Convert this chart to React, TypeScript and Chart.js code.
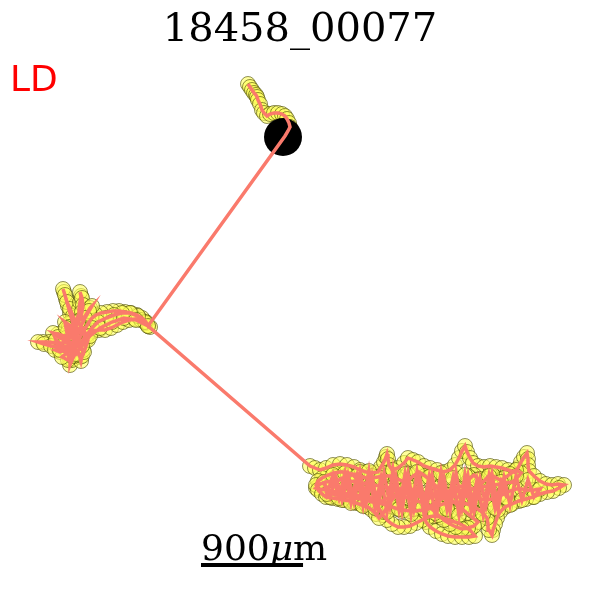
import React, { useEffect, useRef } from 'react';
import { Chart, registerables } from 'chart.js';

Chart.register(...registerables);

// track positions (arena units, 1 unit ~ 8.8 um), in the order they were visited
const startX = [248, 250, 252, 254, 256, 257, 258, 260, 262, 264, 267, 270, 274, 278, 282, 285, 287, 289, 290, 288, 285];
const startY = [84, 87, 90, 93, 95, 97, 100, 104, 110, 113, 116, 114, 113, 113, 114, 116, 119, 123, 127, 131, 136];

const leftX = [
  148, 146, 142, 137, 131, 125, 119, 113, 107, 101, 96, 92, 89, 86, 83, 80, 78,
  76, 74, 72, 70, 68, 66, 64, 63, 65, 67, 70, 73, 76,
  78, 79, 80, 81, 80, 82, 83, 82, 80,
  84, 87, 90, 92, 89, 85, 81,
  77, 72, 68, 65, 69, 73, 77,
  70, 64, 58, 53, 58, 64, 70,
  63, 56, 49, 43, 38, 44, 51, 58,
  65, 68, 70, 70, 72, 75,
  78, 80, 81, 82, 83,
  75, 72, 78, 74,
  72, 66, 60, 55, 62, 70, 76, 74, 68, 62, 68, 75, 82, 86, 84, 78, 72, 68, 72,
  80, 84, 88, 93, 99, 105, 111, 117, 123, 129, 135, 141, 146, 150,
  145, 138, 130, 122, 114, 106, 98, 92, 86, 80, 74, 68, 62, 56, 60, 66, 72, 78, 84, 88,
  84, 78, 72, 66, 70, 76, 82, 90, 100, 112, 124, 136, 148,
];
const leftY = [
  326, 322, 318, 315, 313, 312, 311, 311, 312, 313, 315, 318, 322, 327, 332, 337, 341,
  334, 327, 320, 313, 306, 299, 292, 289, 295, 302, 309, 316, 323,
  316, 309, 302, 296, 292, 298, 305, 312, 320,
  318, 313, 308, 306, 311, 318, 326,
  331, 327, 324, 322, 327, 332, 337,
  338, 336, 334, 333, 337, 340, 342,
  343, 343, 342, 342, 342, 344, 346, 347,
  350, 355, 360, 365, 360, 354,
  352, 357, 361, 356, 350,
  345, 348, 346, 340,
  345, 350, 352, 350, 347, 346, 350, 356, 360, 357, 352, 348, 345, 340, 333, 329, 333, 340, 344,
  344, 338, 334, 331, 330, 330, 328, 325, 322, 320, 319, 320, 323, 327,
  322, 316, 313, 313, 315, 318, 322, 328, 336, 330, 340, 332, 345, 340, 350, 338, 356, 342, 352, 340,
  330, 322, 336, 328, 348, 354, 346, 336, 328, 322, 318, 320, 326,
];

const rightX = [
  310, 315, 320, 326, 333, 340, 347, 354, 360, 366, 372, 378,
  381, 384, 386, 387, 388, 389, 392,
  398, 404, 408, 413, 418, 424, 430, 437, 444,
  450, 455, 459, 462, 465, 467, 470, 473,
  478, 484, 490, 496, 502, 508, 514,
  518, 521, 524, 527, 528, 528, 529,
  534, 540, 546, 552, 558, 564, 559, 553, 547, 540,
  533, 526, 519, 512, 505,
  500, 497, 495, 493, 492, 489, 488, 487,
  482, 476, 470, 464, 458, 452, 446, 440, 434, 428, 422, 416, 410, 404, 398, 392, 386, 380, 374, 368, 362, 356, 350, 344, 338, 332, 326, 320, 316,
  320, 326, 332, 338, 344, 350, 356, 362, 368, 374, 380, 386, 392, 398, 404, 410, 416, 422, 428, 434, 440, 446, 452, 458, 464, 470, 476, 482, 488, 494, 500, 506,
  512, 517, 521, 516, 510, 505, 500, 495, 490, 486, 482, 478, 474, 470, 468,
  462, 456, 450, 444, 438, 432, 426,
  424, 426, 430, 436, 442, 448, 455, 462, 469, 475,
  470, 464, 458, 452, 446, 440, 434, 428, 422, 416, 410, 404, 398, 392, 387, 383, 380,
  376, 372, 368, 364, 360, 356, 352, 346, 340, 334, 328, 322, 318, 316, 318, 322, 326, 332, 338, 344, 350, 356, 362, 368, 372, 376, 379,
  384, 389, 395, 401, 407, 413, 419, 425, 431, 437, 443, 449, 455, 461, 467, 473, 478, 474, 468, 462, 456, 450, 444, 438, 432, 426, 420, 414, 408, 402, 396, 390, 384, 378, 372, 366, 360, 354, 348, 342, 336, 330, 326,
  330, 336, 342, 348, 354, 360, 366, 372, 378, 384, 390, 396, 402, 408, 414, 420, 426, 432, 438, 444, 450, 456, 462, 468, 474, 480, 486, 492, 498, 504, 510, 516, 522, 528, 534, 540,
  534, 528, 522, 516, 510, 504, 498, 492, 486, 480, 474, 468, 462, 456, 450, 444, 438, 432, 426, 420, 414, 408, 402, 396, 390, 384, 378, 372, 366, 360, 354, 348, 342, 336, 330, 324,
  327, 333, 339, 345, 351, 357, 363, 369, 375, 381, 387, 393, 399, 405, 411, 417, 423, 429, 435, 441, 447, 453, 459, 465, 471, 477, 483, 489, 495, 501, 507,
];
const rightY = [
  466, 468, 470, 468, 465, 464, 465, 467, 470, 472, 473, 472,
  467, 462, 457, 454, 459, 465, 470,
  468, 463, 458, 460, 462, 466, 468, 470, 472,
  470, 465, 458, 451, 446, 452, 458, 463,
  466, 467, 466, 467, 468, 470, 472,
  468, 462, 457, 453, 459, 465, 471,
  476, 481, 484, 485, 484, 485, 488, 491, 492, 494,
  497, 499, 501, 504, 507,
  512, 518, 524, 530, 535, 530, 524, 518,
  512, 508, 505, 503, 502, 502, 503, 505, 507, 509, 510, 511, 511, 510, 509, 507, 505, 503, 501, 499, 497, 495, 494, 493, 492, 491, 490, 489, 488,
  484, 482, 481, 480, 480, 481, 482, 483, 484, 485, 486, 487, 488, 489, 490, 491, 492, 493, 494, 494, 494, 493, 492, 491, 490, 489, 488, 487, 486, 485, 484, 483,
  482, 478, 473, 470, 474, 478, 480, 477, 474, 479, 483, 479, 475, 478, 483,
  486, 488, 490, 497, 502, 505, 510,
  516, 522, 527, 531, 534, 536, 537, 537, 537, 536,
  530, 526, 523, 521, 519, 517, 516, 517, 520, 523, 526, 527, 527, 524, 520, 515, 510,
  505, 500, 495, 490, 486, 478, 474, 472, 472, 473, 475, 478, 481, 485, 490, 494, 497, 498, 499, 500, 501, 503, 505, 507, 510, 514, 518,
  512, 504, 496, 489, 482, 476, 472, 476, 481, 487, 493, 498, 503, 508, 513, 518, 522, 526, 528, 529, 527, 524, 520, 515, 509, 503, 497, 491, 486, 481, 478, 476, 476, 477, 478, 478, 476, 474, 476, 478, 482, 486, 489,
  493, 495, 496, 497, 498, 499, 500, 502, 503, 500, 497, 495, 496, 498, 500, 502, 500, 497, 495, 494, 495, 497, 497, 496, 497, 499, 500, 499, 497, 494, 491, 489, 489, 490, 490, 489,
  497, 480, 500, 476, 505, 478, 510, 474, 506, 479, 512, 476, 508, 473, 511, 478, 507, 475, 512, 479, 509, 474, 511, 477, 506, 473, 509, 476, 504, 472, 502, 475, 500, 477, 497, 482,
  494, 475, 498, 473, 503, 476, 506, 471, 508, 478, 512, 470, 509, 474, 514, 472, 508, 477, 513, 473, 509, 478, 515, 475, 510, 480, 514, 476, 508, 482, 498,
];

const title = '18458_00077';
const condition = 'LD';
const scaleBarUm = 900;
const umPerUnit = 8.82;

const trackX = [...startX, ...leftX, ...rightX];
const trackY = [...startY, ...leftY, ...rightY];

export default function App() {
  const canvasRef = useRef<HTMLCanvasElement>(null);
  const chartRef = useRef<Chart | null>(null);

  useEffect(() => {
    if (!canvasRef.current) return;
    if (chartRef.current) chartRef.current.destroy();
    const ctx = canvasRef.current.getContext('2d');
    if (!ctx) return;

    const points = trackX.map((x, i) => ({ x, y: trackY[i] }));

    const textPlugin = {
      id: 'annotations',
      afterDraw(chart: any) {
        const c = chart.ctx;
        const xs = chart.scales.x;
        const ys = chart.scales.y;
        c.save();
        c.fillStyle = '#000';
        c.font = '40px "DejaVu Serif"';
        c.textAlign = 'center';
        c.textBaseline = 'alphabetic';
        c.fillText(title, 300, 41);

        c.fillStyle = '#ff0000';
        c.font = '36px "DejaVu Sans"';
        c.textAlign = 'left';
        c.fillText(condition, 10, 91);

        // scale bar
        const x0 = xs.getPixelForValue(201);
        const x1 = xs.getPixelForValue(201 + scaleBarUm / umPerUnit);
        const yb = ys.getPixelForValue(565);
        c.strokeStyle = '#000';
        c.lineWidth = 4;
        c.beginPath();
        c.moveTo(x0, yb);
        c.lineTo(x1, yb);
        c.stroke();

        c.fillStyle = '#000';
        c.textAlign = 'left';
        let tx = x0;
        const base = ys.getPixelForValue(560);
        c.font = '36px "DejaVu Serif"';
        c.fillText(String(scaleBarUm), tx, base);
        tx += c.measureText(String(scaleBarUm)).width;
        c.font = 'italic 36px "DejaVu Serif"';
        c.fillText('\u03bc', tx, base);
        tx += c.measureText('\u03bc').width;
        c.font = '36px "DejaVu Serif"';
        c.fillText('m', tx, base);
        c.restore();
      },
    };

    chartRef.current = new Chart(ctx, {
      type: 'scatter',
      data: {
        datasets: [
          {
            label: 'path',
            data: points,
            showLine: true,
            borderColor: '#fa7a6c',
            borderWidth: 3.5,
            pointRadius: 0,
            order: 0,
          },
          {
            label: 'start',
            data: [{ x: 283, y: 137 }],
            pointRadius: 19,
            backgroundColor: '#000',
            borderWidth: 0,
            order: 1,
          },
          {
            label: 'positions',
            data: points,
            pointRadius: 7.5,
            backgroundColor: 'rgba(255, 255, 90, 0.6)',
            borderColor: 'rgba(70, 70, 0, 0.6)',
            borderWidth: 1,
            order: 2,
          },
        ],
      },
      options: {
        responsive: false,
        animation: false,
        layout: { padding: 0, autoPadding: false },
        plugins: {
          legend: { display: false },
          tooltip: { enabled: false },
        },
        scales: {
          x: { type: 'linear', min: 0, max: 600, display: false },
          y: { type: 'linear', min: 0, max: 600, reverse: true, display: false },
        },
      },
      plugins: [textPlugin],
    });

    return () => {
      if (chartRef.current) {
        chartRef.current.destroy();
        chartRef.current = null;
      }
    };
  }, []);

  return (
    <div style={{ position: 'fixed', left: 0, top: 0, width: 600, height: 600, background: '#fff' }}>
      <canvas ref={canvasRef} width={600} height={600} />
    </div>
  );
}
